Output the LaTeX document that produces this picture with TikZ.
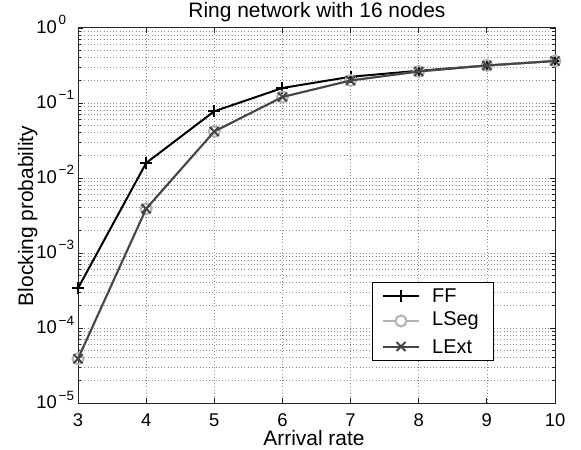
\documentclass[tikz,border=0pt]{standalone}
\usepackage{fontspec}
\setmainfont{Liberation Sans}
\begin{document}
\begin{tikzpicture}[x=1bp,y=-1bp,
  declare function={px(\v)=78+(\v-3)*477/7; py(\l)=28-75*\l;},
  gridln/.style={black!45, line width=0.7bp, dash pattern=on 0.7bp off 2.5bp},
  axisln/.style={black!85, line width=1bp},
  tickln/.style={black!85, line width=0.9bp},
  ticklab/.style={font=\fontsize{18.5}{19}\selectfont, inner sep=0},
  explab/.style={font=\fontsize{13.5}{14}\selectfont, inner sep=0},
  biglab/.style={font=\fontsize{21}{22}\selectfont, inner sep=0},
  leglab/.style={font=\fontsize{20}{22}\selectfont, inner sep=0, anchor=west},
  ffline/.style={black, line width=2bp, line join=round},
  lsline/.style={black!30, line width=2bp, line join=round},
  leline/.style={black!73, line width=2bp, line join=round},
  ffmark/.style={black, line width=2bp},
  lsmark/.style={black!30, line width=2bp},
  lemark/.style={black!73, line width=2bp},
]
\useasboundingbox[fill=white] (0,0) rectangle (581,450);

% grid
\foreach \i in {4,...,9} \draw[gridln] ({px(\i)},28) -- ({px(\i)},403);
\foreach \d in {-5,...,-1} {
  \foreach \k in {1,...,9} {
    \pgfmathsetmacro\yy{py(\d+log10(\k))}
    \draw[gridln] (78,\yy) -- (555,\yy);
  }
}

% ticks
\foreach \i in {3,...,10} {
  \draw[tickln] ({px(\i)},403) -- ({px(\i)},398);
  \draw[tickln] ({px(\i)},28) -- ({px(\i)},33);
}
\foreach \d in {-5,...,0} {
  \draw[tickln] (78,{py(\d)}) -- (83,{py(\d)});
  \draw[tickln] (555,{py(\d)}) -- (550,{py(\d)});
}
\foreach \d in {-5,...,-1} {
  \foreach \k in {2,...,9} {
    \pgfmathsetmacro\yy{py(\d+log10(\k))}
    \draw[tickln] (78,\yy) -- (81,\yy);
    \draw[tickln] (555,\yy) -- (552,\yy);
  }
}
\draw[axisln] (78,28) rectangle (555,403);

% tick labels
\foreach \i in {3,...,10}
  \node[ticklab, anchor=base] (xt\i) at ({px(\i)},426) {\i};
\foreach \d/\e in {0/0,-1/−1,-2/−2,-3/−3,-4/−4,-5/−5} {
  \node[ticklab, anchor=base east] (yt\e) at (57,{py(\d)+5.5}) {10};
  \node[explab, anchor=base west] (ye\e) at (58.5,{py(\d)-3}) {\e};
}

% labels
\node[biglab, anchor=base] (title) at (317,17.5) {Ring network with 16 nodes};
\node[biglab, anchor=base] (xlab) at (314,445) {Arrival rate};
\node[biglab, anchor=base, rotate=90] (ylab) at (33,216) {Blocking probability};

% data
\foreach \x/\l in {3/-3.47,4/-1.80,5/-1.11,6/-0.80,7/-0.65,8/-0.57,9/-0.50,10/-0.44}
  \coordinate (f\x) at ({px(\x)},{py(\l)});
\foreach \x/\l in {3/-4.41,4/-2.41,5/-1.38,6/-0.92,7/-0.70,8/-0.58,9/-0.50,10/-0.44} {
  \coordinate (s\x) at ({px(\x)},{py(\l)});
  \coordinate (e\x) at ({px(\x)},{py(\l)});
}

\draw[ffline] (f3) -- (f4) -- (f5) -- (f6) -- (f7) -- (f8) -- (f9) -- (f10);
\foreach \x in {3,...,10}
  \draw[ffmark] ([xshift=-6bp]f\x) -- ([xshift=6bp]f\x) ([yshift=-6bp]f\x) -- ([yshift=6bp]f\x);
\draw[lsline] (s3) -- (s4) -- (s5) -- (s6) -- (s7) -- (s8) -- (s9) -- (s10);
\foreach \x in {3,...,10}
  \draw[lsmark] (s\x) circle (5.5bp);
\draw[leline] (e3) -- (e4) -- (e5) -- (e6) -- (e7) -- (e8) -- (e9) -- (e10);
\foreach \x in {3,...,10}
  \draw[lemark] ([shift={(-4.5bp,-4.5bp)}]e\x) -- ([shift={(4.5bp,4.5bp)}]e\x)
                ([shift={(-4.5bp,4.5bp)}]e\x) -- ([shift={(4.5bp,-4.5bp)}]e\x);

% legend
\node[draw=black, line width=1bp, fill=white, minimum width=121bp, minimum height=78bp,
      anchor=north west, inner sep=0] (leg) at (372,282) {};
\coordinate (la1) at (383,296); \coordinate (lb1) at (419,296); \coordinate (lm1) at (401,296);
\coordinate (la2) at (383,321); \coordinate (lb2) at (419,321); \coordinate (lm2) at (401,321);
\coordinate (la3) at (383,346.5); \coordinate (lb3) at (419,346.5); \coordinate (lm3) at (401,346.5);
\draw[ffline] (la1) -- (lb1);
\draw[ffmark] ([xshift=-6bp]lm1) -- ([xshift=6bp]lm1) ([yshift=-6bp]lm1) -- ([yshift=6bp]lm1);
\draw[lsline] (la2) -- (lb2);
\draw[lsmark, fill=white] (lm2) circle (5.5bp);
\draw[leline] (la3) -- (lb3);
\draw[lemark] ([shift={(-4.5bp,-4.5bp)}]lm3) -- ([shift={(4.5bp,4.5bp)}]lm3)
              ([shift={(-4.5bp,4.5bp)}]lm3) -- ([shift={(4.5bp,-4.5bp)}]lm3);
\node[leglab] (lt1) at (432,296) {FF};
\node[leglab] (lt2) at (432,321) {LSeg};
\node[leglab] (lt3) at (432,346.5) {LExt};
\end{tikzpicture}
\end{document}
